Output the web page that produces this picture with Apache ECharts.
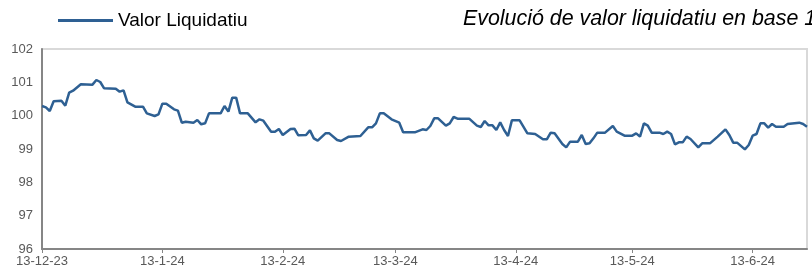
<!DOCTYPE html>
<html>
<head>
<meta charset="utf-8">
<script src="https://cdn.jsdelivr.net/npm/echarts@6/dist/echarts.min.js"></script>
<style>
  html, body { margin: 0; padding: 0; background: #fff; }
  #chart { width: 812px; height: 273px; }
</style>
</head>
<body>
<div id="chart"></div>
<script>
// dates of the line vertices
const dates = [
  '2023-12-13','2023-12-14','2023-12-15','2023-12-16','2023-12-18','2023-12-19','2023-12-20','2023-12-21',
  '2023-12-23','2023-12-26','2023-12-27','2023-12-28','2023-12-29',
  '2024-01-01','2024-01-02','2024-01-03','2024-01-04','2024-01-06','2024-01-08','2024-01-09','2024-01-11',
  '2024-01-12','2024-01-13','2024-01-14','2024-01-16','2024-01-17','2024-01-18','2024-01-19','2024-01-21',
  '2024-01-22','2024-01-23','2024-01-24','2024-01-25','2024-01-28','2024-01-29','2024-01-30','2024-01-31',
  '2024-02-01','2024-02-02','2024-02-04','2024-02-06','2024-02-07','2024-02-08','2024-02-10','2024-02-11',
  '2024-02-12','2024-02-13','2024-02-15','2024-02-16','2024-02-17','2024-02-19','2024-02-20','2024-02-21',
  '2024-02-22','2024-02-24','2024-02-25','2024-02-27','2024-02-28',
  '2024-03-01','2024-03-04','2024-03-06','2024-03-07','2024-03-08','2024-03-09','2024-03-10','2024-03-12',
  '2024-03-14','2024-03-15','2024-03-18','2024-03-20','2024-03-21','2024-03-22','2024-03-23','2024-03-24',
  '2024-03-26','2024-03-27','2024-03-28','2024-03-29',
  '2024-04-01','2024-04-03','2024-04-04','2024-04-05','2024-04-06','2024-04-07','2024-04-08','2024-04-09',
  '2024-04-10','2024-04-11','2024-04-12','2024-04-14','2024-04-16','2024-04-18','2024-04-20','2024-04-21',
  '2024-04-22','2024-04-23','2024-04-25','2024-04-26','2024-04-27','2024-04-29','2024-04-30',
  '2024-05-01','2024-05-02','2024-05-03','2024-05-04','2024-05-06','2024-05-08','2024-05-09','2024-05-11',
  '2024-05-13','2024-05-14','2024-05-15','2024-05-16','2024-05-17','2024-05-18','2024-05-20','2024-05-21',
  '2024-05-22','2024-05-23','2024-05-24','2024-05-25','2024-05-26','2024-05-27','2024-05-28','2024-05-30',
  '2024-05-31',
  '2024-06-02','2024-06-04','2024-06-06','2024-06-07','2024-06-08','2024-06-09','2024-06-11','2024-06-12',
  '2024-06-13','2024-06-14','2024-06-15','2024-06-16','2024-06-17','2024-06-18','2024-06-19','2024-06-21',
  '2024-06-22','2024-06-25','2024-06-26','2024-06-27'
];

// valor liquidatiu (base 100)
const values = [
  100.29,100.25,100.14,100.43,100.45,100.30,100.69,100.75,
  100.94,100.93,101.07,101.01,100.82,
  100.81,100.72,100.76,100.40,100.27,100.27,100.07,99.99,
  100.04,100.36,100.36,100.19,100.15,99.79,99.82,99.79,
  99.87,99.74,99.77,100.07,100.07,100.29,100.12,100.54,
  100.54,100.07,100.07,99.80,99.89,99.85,99.52,99.52,
  99.60,99.42,99.60,99.61,99.41,99.42,99.56,99.32,
  99.25,99.47,99.47,99.27,99.24,
  99.37,99.39,99.65,99.65,99.77,100.07,100.07,99.89,
  99.79,99.50,99.50,99.59,99.57,99.69,99.92,99.92,
  99.70,99.77,99.96,99.91,
  99.91,99.70,99.66,99.84,99.71,99.71,99.57,99.80,
  99.57,99.39,99.86,99.86,99.47,99.45,99.29,99.29,
  99.49,99.47,99.15,99.05,99.22,99.22,99.42,
  99.15,99.17,99.32,99.49,99.49,99.69,99.52,99.40,
  99.40,99.47,99.37,99.77,99.70,99.49,99.49,99.45,
  99.52,99.45,99.14,99.20,99.20,99.37,99.30,99.05,
  99.17,
  99.17,99.37,99.59,99.42,99.19,99.19,98.99,99.12,
  99.40,99.45,99.77,99.77,99.64,99.75,99.67,99.67,
  99.75,99.79,99.75,99.67
];

const tickDates = ['2023-12-13','2024-01-13','2024-02-13','2024-03-13','2024-04-13','2024-05-13','2024-06-13'];

const seriesName = 'Valor Liquidatiu';
const titleText = 'Evolució de valor liquidatiu en base 100';

const toTime = (s) => { const p = s.split('-'); return new Date(+p[0], +p[1] - 1, +p[2]).getTime(); };
const fmtDate = (v) => { const d = new Date(v); return d.getDate() + '-' + (d.getMonth() + 1) + '-' + String(d.getFullYear()).slice(2); };

const chart = echarts.init(document.getElementById('chart'), null, { renderer: 'canvas' });

chart.setOption({
  animation: false,
  backgroundColor: '#fff',
  textStyle: { fontFamily: 'Liberation Sans, Arial, sans-serif' },
  title: {
    text: titleText,
    left: 458,
    top: 4,
    textStyle: { fontSize: 21.4, fontStyle: 'italic', fontWeight: 'normal', color: '#000' },
  },
  legend: {
    left: 53,
    top: 6,
    icon: 'rect',
    itemWidth: 55,
    itemHeight: 3,
    textStyle: { fontSize: 19, color: '#000' },
    data: [seriesName],
  },
  grid: {
    left: 42, right: 5, top: 49, bottom: 24,
    show: true,
    borderColor: '#d9d9d9',
    borderWidth: 2,
  },
  xAxis: {
    type: 'value',
    min: toTime('2023-12-13'),
    max: toTime('2024-06-27'),
    axisLine: { lineStyle: { color: '#868686', width: 2 } },
    axisTick: { show: true, length: 4, lineStyle: { color: '#868686' }, customValues: tickDates.map(toTime) },
    axisLabel: {
      customValues: tickDates.map(toTime),
      formatter: fmtDate,
      color: '#595959', fontSize: 13, margin: 6,
    },
    splitLine: { show: false },
  },
  yAxis: {
    type: 'value',
    min: 96, max: 102, interval: 1,
    axisLine: { show: true, lineStyle: { color: '#868686', width: 2 } },
    axisTick: { show: false },
    axisLabel: { color: '#595959', fontSize: 13, margin: 9 },
    splitLine: { show: false },
  },
  series: [{
    name: seriesName,
    type: 'line',
    data: dates.map((d, i) => [toTime(d), values[i]]),
    showSymbol: false,
    lineStyle: { color: '#2e6093', width: 2.5 },
    itemStyle: { color: '#2e6093' },
  }],
});
</script>
</body>
</html>
